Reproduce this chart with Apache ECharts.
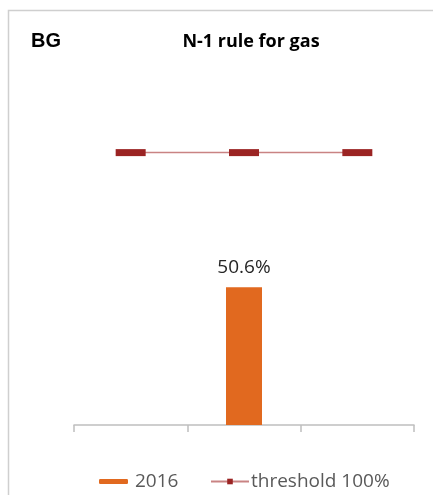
<!DOCTYPE html>
<html>
<head>
<meta charset="utf-8">
<script src="https://cdn.jsdelivr.net/npm/echarts@6/dist/echarts.min.js"></script>
<style>
  html, body { margin: 0; padding: 0; background: #fff; }
  #chart { width: 433px; height: 495px; }
</style>
</head>
<body>
<div id="chart"></div>
<script>
// Three category slots along the x axis (unlabelled)
const categories = ['A', 'B', 'C'];
// N-1 indicator for 2016, only the middle slot is filled
const values2016 = [null, 50.6, null];
// Reference threshold of 100%
const thresholdValues = [100, 100, 100];

const chart = echarts.init(document.getElementById('chart'));

chart.setOption({
  animation: false,
  backgroundColor: '#ffffff',
  title: [
    {
      text: 'BG',
      left: 26, top: 26,
      textStyle: { fontFamily: 'Liberation Sans', fontWeight: 'bold', fontSize: 20, color: '#000' }
    },
    {
      text: 'N-1 rule for gas',
      left: 246, top: 28, textAlign: 'center',
      textStyle: { fontFamily: 'Open Sans', fontWeight: 'bold', fontSize: 18, color: '#000' }
    }
  ],
  graphic: [{
    type: 'polyline',
    shape: { points: [[8.5, 495], [8.5, 10.5], [433, 10.5]] },
    style: { stroke: '#cfcfcf', lineWidth: 1.5, fill: null },
    silent: true
  }],
  legend: [
    {
      data: ['2016'],
      left: 94, top: 467,
      icon: 'roundRect',
      itemWidth: 29, itemHeight: 5,
      itemGap: 8,
      textStyle: { fontFamily: 'Open Sans', fontSize: 19, color: '#595959', padding: [0, 0, 0, 2] }
    },
    {
      data: ['threshold 100%'],
      left: 205, top: 467,
      itemWidth: 38, itemHeight: 7,
      textStyle: { fontFamily: 'Open Sans', fontSize: 19, color: '#595959', padding: [0, 0, 0, -3] }
    }
  ],
  grid: { left: 74, right: 19, top: 60, bottom: 70 },
  xAxis: {
    type: 'category',
    data: categories,
    boundaryGap: true,
    axisLine: { lineStyle: { color: '#bfbfbf', width: 1.5 } },
    axisTick: { show: true, length: 7, lineStyle: { color: '#bfbfbf', width: 1.5 } },
    axisLabel: { show: false }
  },
  yAxis: {
    type: 'value',
    min: 0, max: 134,
    show: false,
    splitLine: { show: false }
  },
  series: [
    {
      name: '2016',
      type: 'bar',
      data: values2016,
      barWidth: 36,
      itemStyle: { color: '#e1691f' },
      label: {
        show: true,
        position: 'top',
        distance: 10,
        formatter: p => p.value.toFixed(1) + '%',
        fontFamily: 'Open Sans',
        fontSize: 19,
        color: '#262626'
      }
    },
    {
      name: 'threshold 100%',
      type: 'line',
      data: thresholdValues,
      symbol: 'rect',
      symbolSize: [30, 7],
      itemStyle: { color: '#9b2423' },
      lineStyle: { color: '#c98383', width: 1.5 },
      z: 3
    }
  ]
});
</script>
</body>
</html>
